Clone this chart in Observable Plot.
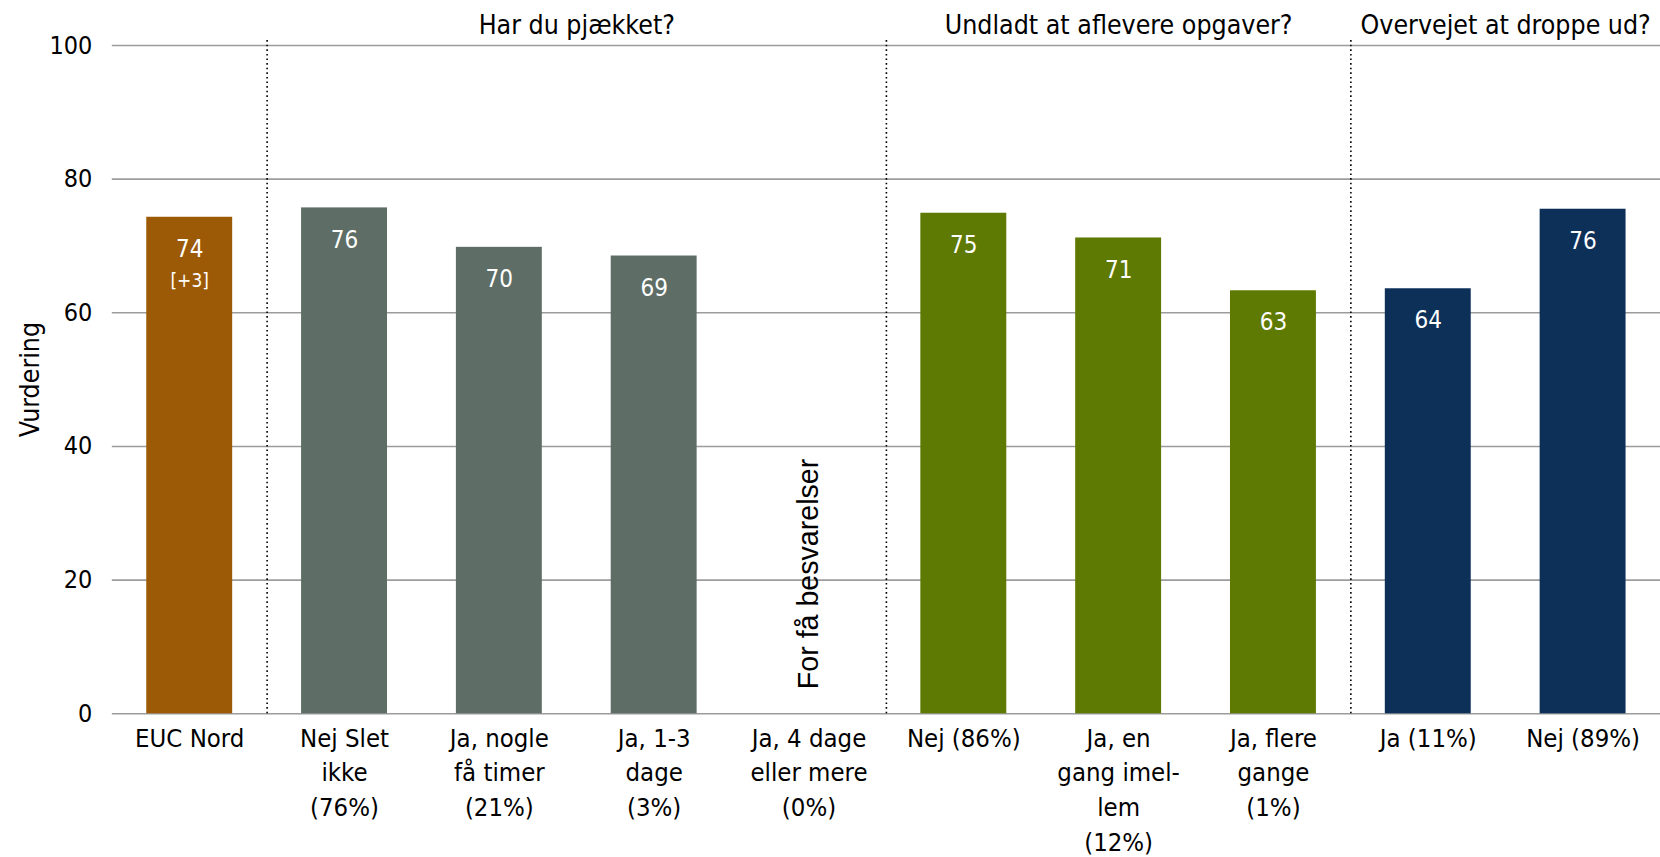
<!DOCTYPE html>
<html><head><meta charset="utf-8">
<script src="https://cdn.jsdelivr.net/npm/d3@7"></script>
<script src="https://cdn.jsdelivr.net/npm/@observablehq/plot@0.6"></script>
<style>
body{margin:0;background:#fff;}
#chart svg{display:block;}
</style></head><body><div id="chart"></div>
<script>
const categories = ["EUC Nord","Nej Slet ikke (76%)","Ja, nogle få timer (21%)","Ja, 1-3 dage (3%)","Ja, 4 dage eller mere (0%)","Nej (86%)","Ja, en gang imellem (12%)","Ja, flere gange (1%)","Ja (11%)","Nej (89%)"];
const tickLabels = ["EUC Nord","Nej Slet\nikke\n(76%)","Ja, nogle\nfå timer\n(21%)","Ja, 1-3\ndage\n(3%)","Ja, 4 dage\neller mere\n(0%)","Nej (86%)","Ja, en\ngang imel-\nlem\n(12%)","Ja, flere\ngange\n(1%)","Ja (11%)","Nej (89%)"];
const groups = ["EUC Nord","Har du pjækket?","Har du pjækket?","Har du pjækket?","Har du pjækket?","Undladt at aflevere opgaver?","Undladt at aflevere opgaver?","Undladt at aflevere opgaver?","Overvejet at droppe ud?","Overvejet at droppe ud?"];
const values = [74.3, 75.7, 69.8, 68.5, null, 74.9, 71.2, 63.3, 63.6, 75.5];
const valueLabels = ["74","76","70","69","","75","71","63","64","76"];
const changeLabels = ["[+3]","","","","","","","","",""];
const groupTitles = ["Har du pjækket?","Undladt at aflevere opgaver?","Overvejet at droppe ud?"];
const noDataNote = "For få besvarelser";
const yTicks = [0,20,40,60,80,100];
const yLabel = "Vurdering";

const rows = categories.map((c,i)=>({cat:c, label:tickLabels[i], group:groups[i], value:values[i], vlab:valueLabels[i], clab:changeLabels[i]}));
const W = 1660, H = 857, mL = 111.8, mR = 0;
const step = (W - mL - mR) / categories.length;
const font = "'DejaVu Sans Condensed', 'DejaVu Sans', sans-serif";

// group headings: odd-sized group centred on its middle band, even-sized groups centred between the two middle bands
const titleMid = [{t: groupTitles[1], cat: categories[6]}];
const titleBetween = [{t: groupTitles[0], cat: categories[2]}, {t: groupTitles[2], cat: categories[8]}];
const separators = [categories[1], categories[5], categories[8]];

const chart = Plot.plot({
  width: W, height: H,
  marginLeft: mL, marginRight: mR, marginTop: 45, marginBottom: 143.7,
  style: {fontFamily: font, fontSize: "25px", color: "#000", background: "#fff"},
  x: {domain: categories, type: "band", round: false, paddingInner: 0.445, paddingOuter: 0.2225, axis: null},
  y: {domain: [0, 100], axis: null},
  color: {domain: ["EUC Nord","Har du pjækket?","Undladt at aflevere opgaver?","Overvejet at droppe ud?"], range: ["#9C5A06","#5E6E66","#5E7A03","#0D3059"]},
  marks: [
    Plot.ruleY(yTicks, {stroke: "#9c9c9c", strokeWidth: 1.6}),
    Plot.axisY({ticks: yTicks, tickSize: 0, tickPadding: 20, fontSize: 25, label: null}),
    Plot.text([yLabel], {frameAnchor: "left", textAnchor: "middle", lineAnchor: "middle", rotate: -90, dx: -82, fontSize: 26.5}),
    Plot.ruleX(separators, {x: d => d, dx: -step/2, y1: 0, y2: 100.75, stroke: "#000", strokeWidth: 1.6, strokeDasharray: "1.6 3"}),
    Plot.barY(rows.filter(d => d.value != null), {x: "cat", y: "value", fill: "group"}),
    Plot.text(rows.filter(d => d.value != null), {x: "cat", y: "value", text: "vlab", fill: "#fff", dy: 32, fontSize: 24}),
    Plot.text(rows.filter(d => d.clab), {x: "cat", y: "value", text: "clab", fill: "#fff", dy: 63.5, fontSize: 19}),
    Plot.text(rows, {x: "cat", y: 0, text: "label", lineAnchor: "top", dy: 8.4, lineHeight: 1.36, fontSize: 25.5}),
    Plot.text(rows.filter(d => d.value == null), {x: "cat", y: 0, text: () => noDataNote, rotate: -90, textAnchor: "start", dy: -24.6, fontSize: 28.6, fontFamily: "'Liberation Sans', Arial, sans-serif"}),
    Plot.text(titleMid, {x: "cat", y: 100, text: "t", dy: -19.6, fontSize: 26.5}),
    Plot.text(titleBetween, {x: "cat", y: 100, text: "t", dx: step/2, dy: -19.6, fontSize: 26.5}),
  ]
});
document.getElementById("chart").appendChild(chart);
</script></body></html>
